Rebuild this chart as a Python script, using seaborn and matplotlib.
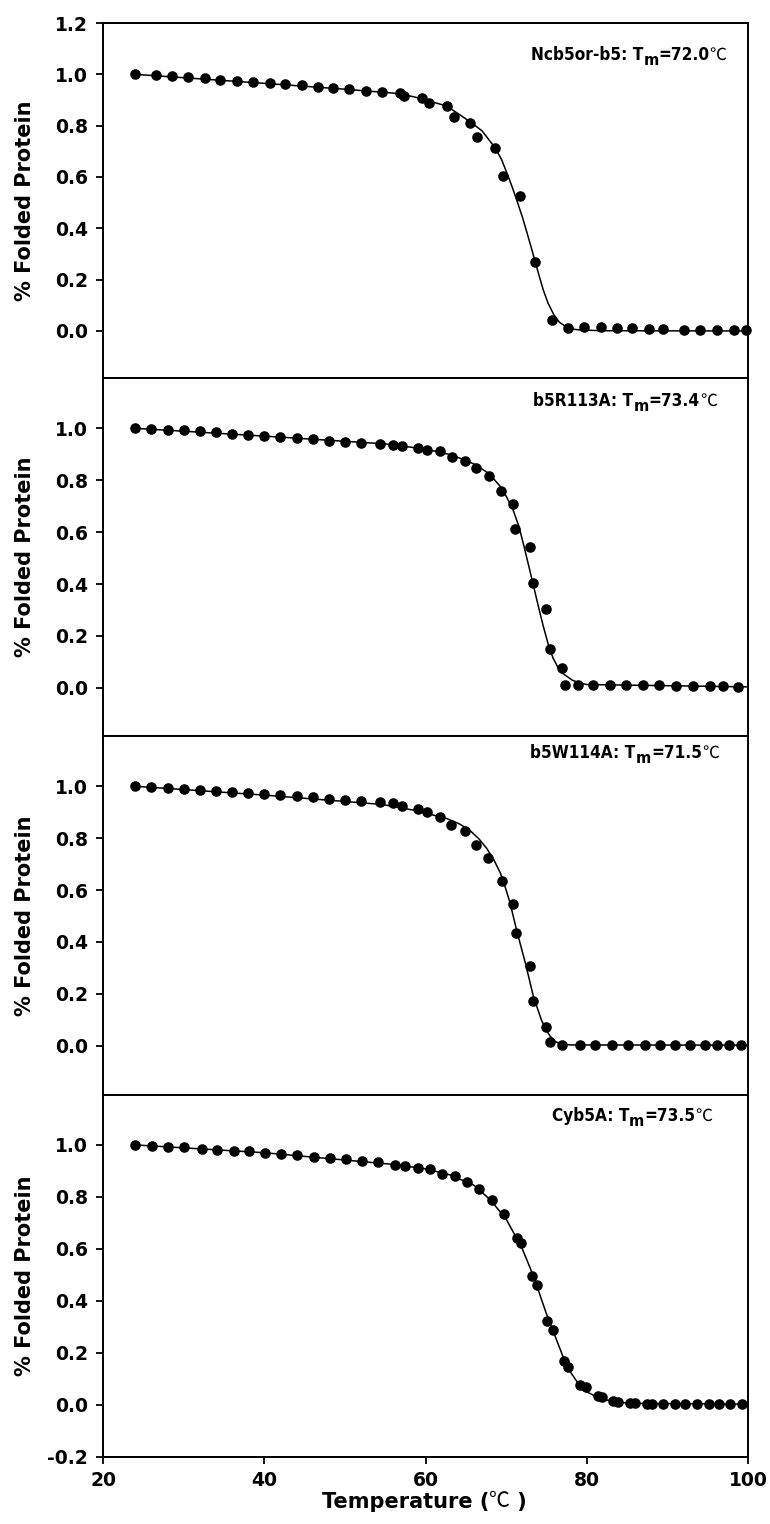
import os

import matplotlib
matplotlib.use("Agg")

import matplotlib.pyplot as plt
import seaborn as sns
from matplotlib import font_manager
from matplotlib.font_manager import FontProperties

# ---- data (temperature in C, fraction folded) ----
ncb5_temp = [24.0, 26.6, 28.6, 30.5, 32.7, 34.5, 36.6, 38.6, 40.7, 42.6,
             44.7, 46.7, 48.5, 50.5, 52.6, 54.6, 56.8, 57.3, 59.5, 60.4,
             62.6, 63.5, 65.5, 66.4, 68.6, 69.6, 71.7, 73.6, 75.7, 77.7,
             79.6, 81.7, 83.7, 85.6, 87.7, 89.5, 92.0, 94.1, 96.1, 98.2, 99.8]
ncb5_fold = [1.002, 0.998, 0.994, 0.989, 0.985, 0.978, 0.976, 0.971, 0.968, 0.963,
             0.958, 0.952, 0.948, 0.943, 0.937, 0.932, 0.927, 0.914, 0.907, 0.888,
             0.875, 0.835, 0.812, 0.757, 0.712, 0.604, 0.526, 0.270, 0.043, 0.010,
             0.014, 0.014, 0.012, 0.010, 0.008, 0.006, 0.005, 0.005, 0.004, 0.003, 0.002]
ncb5_fit_temp = [24, 40, 50, 56, 58.5, 62.6, 65.5, 67.0, 68.6, 69.4, 70.1, 70.7,
                 71.3, 72.0, 72.6, 73.1, 73.6, 74.1, 74.6, 75.2, 75.9, 76.6,
                 77.5, 78.3, 79.2, 82, 100]
ncb5_fit_fold = [1.0, 0.965, 0.942, 0.927, 0.913, 0.877, 0.816, 0.78, 0.715, 0.67,
                 0.615, 0.565, 0.511, 0.445, 0.381, 0.326, 0.270, 0.214, 0.160,
                 0.108, 0.064, 0.034, 0.015, 0.007, 0.004, 0.001, 0.0]

r113_temp = [24, 26, 28, 30, 32, 34, 36, 38, 40, 42, 44, 46, 48, 50, 52, 54.4,
             56.0, 57.1, 59.1, 60.2, 61.8, 63.3, 64.9, 66.2, 67.9, 69.3,
             70.9, 71.1, 73.0, 73.3, 74.9, 75.4, 76.9, 77.3, 78.9, 80.8,
             82.9, 84.9, 87.0, 89.0, 91.1, 93.2, 95.3, 96.9, 98.8]
r113_fold = [1.000, 0.997, 0.995, 0.994, 0.990, 0.985, 0.979, 0.975, 0.970, 0.966,
             0.962, 0.958, 0.953, 0.949, 0.944, 0.939,
             0.935, 0.930, 0.924, 0.918, 0.911, 0.888, 0.875, 0.847, 0.817, 0.759,
             0.708, 0.614, 0.541, 0.405, 0.305, 0.151, 0.077, 0.013, 0.013, 0.013,
             0.013, 0.012, 0.012, 0.011, 0.009, 0.008, 0.006, 0.006, 0.005]
r113_fit_temp = [24, 40, 55, 60, 63.3, 66.2, 67.9, 69.3, 70.1, 70.9, 71.6, 72.2,
                 72.8, 73.4, 74.0, 74.6, 75.2, 75.8, 76.4, 77.0, 78.2, 79.0, 80.0, 100]
r113_fit_fold = [1.0, 0.970, 0.940, 0.920, 0.897, 0.860, 0.825, 0.775, 0.733, 0.682,
                 0.620, 0.547, 0.470, 0.392, 0.313, 0.238, 0.170, 0.116, 0.080,
                 0.056, 0.030, 0.020, 0.013, 0.004]

w114_temp = [24, 26, 28, 30, 32, 34, 36, 38, 40, 42, 44, 46, 48, 50, 52, 54.4,
             56.0, 57.1, 59.1, 60.2, 61.8, 63.1, 64.9, 66.2, 67.8, 69.5,
             70.9, 71.2, 73.0, 73.3, 75.0, 75.4, 76.9,
             79.2, 81.0, 83.1, 85.1, 87.2, 89.1, 90.9, 92.8, 94.7, 96.2, 97.6, 99.1]
w114_fold = [1.002, 0.998, 0.993, 0.989, 0.986, 0.982, 0.977, 0.973, 0.969, 0.965,
             0.961, 0.957, 0.952, 0.948, 0.943, 0.938,
             0.934, 0.924, 0.912, 0.902, 0.880, 0.850, 0.828, 0.773, 0.722, 0.635,
             0.545, 0.434, 0.309, 0.174, 0.073, 0.013, 0.003,
             0.004, 0.004, 0.004, 0.004, 0.004, 0.004, 0.004, 0.003, 0.003, 0.003, 0.003, 0.003]
w114_fit_temp = [24, 40, 54.6, 58.5, 62.6, 64.2, 65.5, 66.6, 67.6, 68.5, 69.3, 70.0,
                 70.5, 71.3, 72.4, 73.4, 74.4, 75.0, 75.4, 76.0, 76.7, 78.0, 100]
w114_fit_fold = [1.0, 0.966, 0.930, 0.908, 0.876, 0.855, 0.830, 0.798, 0.760, 0.715,
                 0.664, 0.600, 0.548, 0.445, 0.316, 0.187, 0.097, 0.060, 0.039,
                 0.018, 0.007, 0.003, 0.002]

cyb5a_temp = [24.0, 26.1, 28.1, 30.1, 32.3, 34.1, 36.2, 38.1, 40.1, 42.1, 44.1,
              46.2, 48.1, 50.1, 52.1, 54.1, 56.2,
              57.4, 59.1, 60.6, 62.1, 63.7, 65.2, 66.6, 68.2, 69.7, 71.3,
              71.8, 73.2, 73.8, 75.1, 75.8, 77.2, 77.7, 79.2, 79.9, 81.4,
              81.9, 83.3, 83.9, 85.4, 86.0, 87.5, 88.1, 89.5, 91.0, 92.2,
              93.7, 95.2, 96.4, 97.8, 99.3]
cyb5a_fold = [1.000, 0.996, 0.993, 0.991, 0.984, 0.982, 0.978, 0.975, 0.970, 0.966, 0.960,
              0.953, 0.950, 0.945, 0.939, 0.933, 0.924,
              0.919, 0.913, 0.906, 0.890, 0.881, 0.859, 0.832, 0.787, 0.733, 0.643,
              0.621, 0.496, 0.461, 0.322, 0.290, 0.168, 0.145, 0.078, 0.068, 0.036,
              0.030, 0.014, 0.012, 0.008, 0.008, 0.005, 0.005, 0.004, 0.004, 0.004,
              0.004, 0.004, 0.004, 0.004, 0.004]
cyb5a_fit_temp = [24, 40, 56, 60, 63, 66, 68, 70, 72, 73, 74, 75, 76, 77, 78, 79,
                  80, 81, 82, 84, 86, 100]
cyb5a_fit_fold = [1.0, 0.970, 0.925, 0.908, 0.885, 0.845, 0.79, 0.715, 0.60, 0.525,
                  0.44, 0.35, 0.27, 0.19, 0.125, 0.08, 0.05, 0.035, 0.022, 0.010,
                  0.006, 0.003]

names = ["Ncb5or-b5", "b5R113A", "b5W114A", "Cyb5A"]
tm_values = ["72.0", "73.4", "71.5", "73.5"]

sns.set_style("ticks")
plt.rcParams["font.family"] = ["DejaVu Sans", "Noto Sans CJK SC"]
plt.rcParams["font.weight"] = "bold"
plt.rcParams["axes.unicode_minus"] = False
plt.rcParams.update({"text.color": "black", "axes.labelcolor": "black",
                     "xtick.color": "black", "ytick.color": "black",
                     "axes.edgecolor": "black"})

# a narrow/condensed bold face suits the panel labels best, if one is installed
narrow_path = None
for key in ("LiberationSansNarrow-Bold", "DejaVuSansCondensed-Bold",
            "NotoSans-CondensedBold", "OpenSans-CondensedBold",
            "OpenSans_Condensed-Bold", "RobotoCondensed-Bold"):
    for f in font_manager.fontManager.ttflist:
        if os.path.basename(f.fname).startswith(key):
            narrow_path = f.fname
            break
    if narrow_path:
        break


def label_font(size):
    if narrow_path:
        return FontProperties(fname=narrow_path, size=size)
    return FontProperties(family=["Liberation Sans", "DejaVu Sans"],
                          weight="bold", size=size - 1)


DEG_FONT = ["Noto Sans CJK SC", "DejaVu Sans"]


def tm_label(ax, name, tm, xr, yb, size=12.3):
    # right to left: degree sign, value, subscript m, name
    deg = ax.text(xr, yb, "\u2103", transform=ax.transAxes, ha="right",
                  va="baseline", fontsize=size, family=DEG_FONT,
                  fontweight="normal")
    num = ax.annotate(f"={tm}", xy=(0, 0), xycoords=deg, ha="right", va="bottom",
                      fontproperties=label_font(size))
    sub = ax.annotate("m", xy=(0, 0), xycoords=num, xytext=(0, -3),
                      textcoords="offset points", ha="right", va="bottom",
                      fontproperties=label_font(size - 0.5))
    ax.annotate(f"{name}: T", xy=(0, 0), xycoords=sub, xytext=(0, 3),
                textcoords="offset points", ha="right", va="bottom",
                fontproperties=label_font(size))


fig = plt.figure(figsize=(7.7, 15.24), dpi=100)

panels = [
    (ncb5_temp, ncb5_fold, ncb5_fit_temp, ncb5_fit_fold),
    (r113_temp, r113_fold, r113_fit_temp, r113_fit_fold),
    (w114_temp, w114_fold, w114_fit_temp, w114_fit_fold),
    (cyb5a_temp, cyb5a_fold, cyb5a_fit_temp, cyb5a_fit_fold),
]
rects = [
    (0.1338, 0.7520, 0.8377, 0.2329),
    (0.1338, 0.5171, 0.8377, 0.2349),
    (0.1338, 0.2815, 0.8377, 0.2356),
    (0.1338, 0.0440, 0.8377, 0.2375),
]
ylims = [(-0.183, 1.2), (-0.185, 1.194), (-0.19, 1.194), (-0.2, 1.192)]
yticks = [
    [0.0, 0.2, 0.4, 0.6, 0.8, 1.0, 1.2],
    [0.0, 0.2, 0.4, 0.6, 0.8, 1.0],
    [0.0, 0.2, 0.4, 0.6, 0.8, 1.0],
    [-0.2, 0.0, 0.2, 0.4, 0.6, 0.8, 1.0],
]
label_pos = [(0.967, 0.896), (0.952, 0.922), (0.955, 0.939), (0.945, 0.928)]

axes = []
for i, (t, f, ft, ff) in enumerate(panels):
    ax = fig.add_axes(rects[i])
    sns.lineplot(x=ft, y=ff, ax=ax, color="black", linewidth=1.1, zorder=2)
    sns.scatterplot(x=t, y=f, ax=ax, color="black", s=58, linewidth=0,
                    zorder=3, clip_on=False)
    ax.set_xlim(20, 100)
    ax.set_ylim(*ylims[i])
    ax.set_yticks(yticks[i])
    ax.set_yticklabels([f"{v:.1f}" for v in yticks[i]])
    ax.set_xlabel("")
    ax.set_ylabel("% Folded Protein", fontsize=15, fontweight="bold")
    ax.yaxis.set_label_coords(-0.121, 0.5)
    ax.yaxis.label.set_va("center")
    for sp in ax.spines.values():
        sp.set_linewidth(1.4)
        sp.set_visible(True)
    ax.tick_params(axis="y", direction="out", length=5, width=1.3, pad=6,
                   labelsize=13.5)
    if i < 3:
        ax.tick_params(axis="x", bottom=False, labelbottom=False)
    else:
        ax.set_xticks([20, 40, 60, 80, 100])
        ax.tick_params(axis="x", direction="out", length=5, width=1.3, pad=5,
                       labelsize=13.5)
    tm_label(ax, names[i], tm_values[i], *label_pos[i])
    axes.append(ax)

# x axis title, built right to left so ")" ends near x=525 px
ax4 = axes[-1]
xclose = fig.text(527 / 770, 1 - 1508 / 1524, " )", ha="right",
                  va="baseline", fontsize=15, fontweight="bold")
xdeg = ax4.annotate("\u2103", xy=(0, 0), xycoords=xclose, ha="right", va="bottom",
                    fontsize=15, family=DEG_FONT, fontweight="normal")
ax4.annotate("Temperature (", xy=(0, 0), xycoords=xdeg, ha="right", va="bottom",
             fontsize=15, fontweight="bold")

fig.savefig("out.png", dpi=100)
